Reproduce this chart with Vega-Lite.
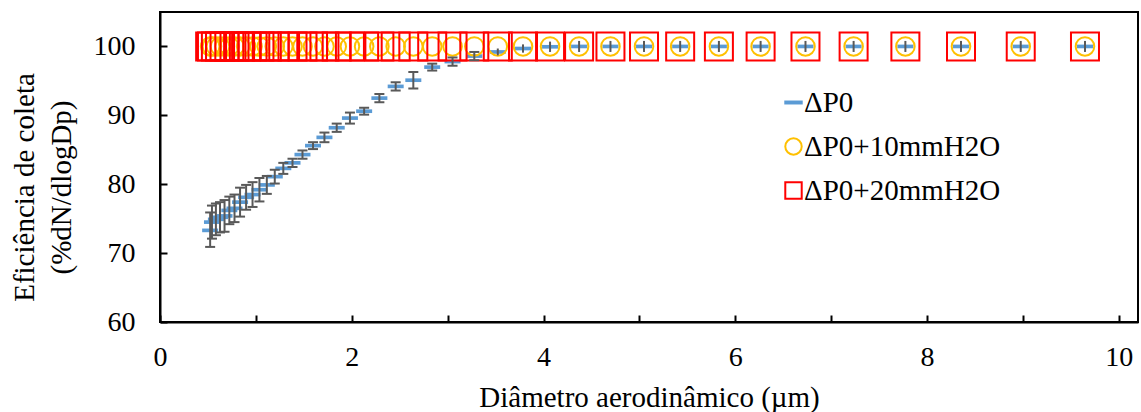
{
  "$schema": "https://vega.github.io/schema/vega-lite/v6.json",
  "width": 978,
  "height": 310,
  "autosize": {"type": "none"},
  "padding": {"left": 160, "top": 12, "right": 3, "bottom": 90},
  "background": "white",
  "config": {
    "font": "Liberation Serif",
    "view": {"stroke": "black", "strokeWidth": 2},
    "axis": {
      "labelFont": "Liberation Serif", "labelFontSize": 28, "labelColor": "black",
      "titleFont": "Liberation Serif", "titleFontSize": 29, "titleFontWeight": "normal", "titleColor": "black",
      "domainColor": "black", "domainWidth": 2, "tickColor": "black", "tickWidth": 2, "grid": false,
      "labelOverlap": false, "labelFlush": false
    },
    "legend": {
      "title": null, "orient": "none", "legendX": 619, "legendY": 76, "padding": 0,
      "labelFont": "Liberation Serif", "labelFontSize": 29, "labelColor": "black", "labelLimit": 400,
      "labelOffset": -4, "symbolSize": 270, "symbolStrokeWidth": 2, "rowPadding": 14
    }
  },
  "datasets": {
    "pts": [
      {"d": 0.523, "s": "ΔP0", "y": 73.3}, {"d": 0.542, "s": "ΔP0", "y": 74.5}, {"d": 0.583, "s": "ΔP0", "y": 74.9},
      {"d": 0.626, "s": "ΔP0", "y": 75.2}, {"d": 0.673, "s": "ΔP0", "y": 75.4}, {"d": 0.723, "s": "ΔP0", "y": 76.2},
      {"d": 0.777, "s": "ΔP0", "y": 76.5}, {"d": 0.835, "s": "ΔP0", "y": 77.4}, {"d": 0.898, "s": "ΔP0", "y": 78.1},
      {"d": 0.965, "s": "ΔP0", "y": 78.5}, {"d": 1.037, "s": "ΔP0", "y": 79.2}, {"d": 1.114, "s": "ΔP0", "y": 79.9},
      {"d": 1.197, "s": "ΔP0", "y": 81.1}, {"d": 1.286, "s": "ΔP0", "y": 82.3}, {"d": 1.382, "s": "ΔP0", "y": 83.1},
      {"d": 1.486, "s": "ΔP0", "y": 84.3}, {"d": 1.596, "s": "ΔP0", "y": 85.6}, {"d": 1.715, "s": "ΔP0", "y": 86.8},
      {"d": 1.843, "s": "ΔP0", "y": 88.2}, {"d": 1.981, "s": "ΔP0", "y": 89.6}, {"d": 2.129, "s": "ΔP0", "y": 90.6},
      {"d": 2.288, "s": "ΔP0", "y": 92.5}, {"d": 2.458, "s": "ΔP0", "y": 94.2}, {"d": 2.642, "s": "ΔP0", "y": 95.1},
      {"d": 2.839, "s": "ΔP0", "y": 97.0}, {"d": 3.051, "s": "ΔP0", "y": 97.8}, {"d": 3.278, "s": "ΔP0", "y": 98.6},
      {"d": 3.523, "s": "ΔP0", "y": 99.2}, {"d": 3.786, "s": "ΔP0", "y": 99.7}, {"d": 4.068, "s": "ΔP0", "y": 99.95},
      {"d": 4.371, "s": "ΔP0", "y": 100}, {"d": 4.698, "s": "ΔP0", "y": 100}, {"d": 5.048, "s": "ΔP0", "y": 100},
      {"d": 5.425, "s": "ΔP0", "y": 100}, {"d": 5.829, "s": "ΔP0", "y": 100}, {"d": 6.264, "s": "ΔP0", "y": 100},
      {"d": 6.732, "s": "ΔP0", "y": 100}, {"d": 7.234, "s": "ΔP0", "y": 100}, {"d": 7.774, "s": "ΔP0", "y": 100},
      {"d": 8.354, "s": "ΔP0", "y": 100}, {"d": 8.977, "s": "ΔP0", "y": 100}, {"d": 9.647, "s": "ΔP0", "y": 100},

      {"d": 0.523, "s": "ΔP0+10mmH2O", "y": 100}, {"d": 0.542, "s": "ΔP0+10mmH2O", "y": 100}, {"d": 0.583, "s": "ΔP0+10mmH2O", "y": 100},
      {"d": 0.626, "s": "ΔP0+10mmH2O", "y": 100}, {"d": 0.673, "s": "ΔP0+10mmH2O", "y": 100}, {"d": 0.723, "s": "ΔP0+10mmH2O", "y": 100},
      {"d": 0.777, "s": "ΔP0+10mmH2O", "y": 100}, {"d": 0.835, "s": "ΔP0+10mmH2O", "y": 100}, {"d": 0.898, "s": "ΔP0+10mmH2O", "y": 100},
      {"d": 0.965, "s": "ΔP0+10mmH2O", "y": 100}, {"d": 1.037, "s": "ΔP0+10mmH2O", "y": 100}, {"d": 1.114, "s": "ΔP0+10mmH2O", "y": 100},
      {"d": 1.197, "s": "ΔP0+10mmH2O", "y": 100}, {"d": 1.286, "s": "ΔP0+10mmH2O", "y": 100}, {"d": 1.382, "s": "ΔP0+10mmH2O", "y": 100},
      {"d": 1.486, "s": "ΔP0+10mmH2O", "y": 100}, {"d": 1.596, "s": "ΔP0+10mmH2O", "y": 100}, {"d": 1.715, "s": "ΔP0+10mmH2O", "y": 100},
      {"d": 1.843, "s": "ΔP0+10mmH2O", "y": 100}, {"d": 1.981, "s": "ΔP0+10mmH2O", "y": 100}, {"d": 2.129, "s": "ΔP0+10mmH2O", "y": 100},
      {"d": 2.288, "s": "ΔP0+10mmH2O", "y": 100}, {"d": 2.458, "s": "ΔP0+10mmH2O", "y": 100}, {"d": 2.642, "s": "ΔP0+10mmH2O", "y": 100},
      {"d": 2.839, "s": "ΔP0+10mmH2O", "y": 100}, {"d": 3.051, "s": "ΔP0+10mmH2O", "y": 100}, {"d": 3.278, "s": "ΔP0+10mmH2O", "y": 100},
      {"d": 3.523, "s": "ΔP0+10mmH2O", "y": 100}, {"d": 3.786, "s": "ΔP0+10mmH2O", "y": 100}, {"d": 4.068, "s": "ΔP0+10mmH2O", "y": 100},
      {"d": 4.371, "s": "ΔP0+10mmH2O", "y": 100}, {"d": 4.698, "s": "ΔP0+10mmH2O", "y": 100}, {"d": 5.048, "s": "ΔP0+10mmH2O", "y": 100},
      {"d": 5.425, "s": "ΔP0+10mmH2O", "y": 100}, {"d": 5.829, "s": "ΔP0+10mmH2O", "y": 100}, {"d": 6.264, "s": "ΔP0+10mmH2O", "y": 100},
      {"d": 6.732, "s": "ΔP0+10mmH2O", "y": 100}, {"d": 7.234, "s": "ΔP0+10mmH2O", "y": 100}, {"d": 7.774, "s": "ΔP0+10mmH2O", "y": 100},
      {"d": 8.354, "s": "ΔP0+10mmH2O", "y": 100}, {"d": 8.977, "s": "ΔP0+10mmH2O", "y": 100}, {"d": 9.647, "s": "ΔP0+10mmH2O", "y": 100},

      {"d": 0.523, "s": "ΔP0+20mmH2O", "y": 100}, {"d": 0.542, "s": "ΔP0+20mmH2O", "y": 100}, {"d": 0.583, "s": "ΔP0+20mmH2O", "y": 100},
      {"d": 0.626, "s": "ΔP0+20mmH2O", "y": 100}, {"d": 0.673, "s": "ΔP0+20mmH2O", "y": 100}, {"d": 0.723, "s": "ΔP0+20mmH2O", "y": 100},
      {"d": 0.777, "s": "ΔP0+20mmH2O", "y": 100}, {"d": 0.835, "s": "ΔP0+20mmH2O", "y": 100}, {"d": 0.898, "s": "ΔP0+20mmH2O", "y": 100},
      {"d": 0.965, "s": "ΔP0+20mmH2O", "y": 100}, {"d": 1.037, "s": "ΔP0+20mmH2O", "y": 100}, {"d": 1.114, "s": "ΔP0+20mmH2O", "y": 100},
      {"d": 1.197, "s": "ΔP0+20mmH2O", "y": 100}, {"d": 1.286, "s": "ΔP0+20mmH2O", "y": 100}, {"d": 1.382, "s": "ΔP0+20mmH2O", "y": 100},
      {"d": 1.486, "s": "ΔP0+20mmH2O", "y": 100}, {"d": 1.596, "s": "ΔP0+20mmH2O", "y": 100}, {"d": 1.715, "s": "ΔP0+20mmH2O", "y": 100},
      {"d": 1.843, "s": "ΔP0+20mmH2O", "y": 100}, {"d": 1.981, "s": "ΔP0+20mmH2O", "y": 100}, {"d": 2.129, "s": "ΔP0+20mmH2O", "y": 100},
      {"d": 2.288, "s": "ΔP0+20mmH2O", "y": 100}, {"d": 2.458, "s": "ΔP0+20mmH2O", "y": 100}, {"d": 2.642, "s": "ΔP0+20mmH2O", "y": 100},
      {"d": 2.839, "s": "ΔP0+20mmH2O", "y": 100}, {"d": 3.051, "s": "ΔP0+20mmH2O", "y": 100}, {"d": 3.278, "s": "ΔP0+20mmH2O", "y": 100},
      {"d": 3.523, "s": "ΔP0+20mmH2O", "y": 100}, {"d": 3.786, "s": "ΔP0+20mmH2O", "y": 100}, {"d": 4.068, "s": "ΔP0+20mmH2O", "y": 100},
      {"d": 4.371, "s": "ΔP0+20mmH2O", "y": 100}, {"d": 4.698, "s": "ΔP0+20mmH2O", "y": 100}, {"d": 5.048, "s": "ΔP0+20mmH2O", "y": 100},
      {"d": 5.425, "s": "ΔP0+20mmH2O", "y": 100}, {"d": 5.829, "s": "ΔP0+20mmH2O", "y": 100}, {"d": 6.264, "s": "ΔP0+20mmH2O", "y": 100},
      {"d": 6.732, "s": "ΔP0+20mmH2O", "y": 100}, {"d": 7.234, "s": "ΔP0+20mmH2O", "y": 100}, {"d": 7.774, "s": "ΔP0+20mmH2O", "y": 100},
      {"d": 8.354, "s": "ΔP0+20mmH2O", "y": 100}, {"d": 8.977, "s": "ΔP0+20mmH2O", "y": 100}, {"d": 9.647, "s": "ΔP0+20mmH2O", "y": 100}
    ],
    "err": [
      {"d": 0.523, "lo": 70.9, "hi": 75.9}, {"d": 0.542, "lo": 72.1, "hi": 76.9}, {"d": 0.583, "lo": 72.6, "hi": 77.2},
      {"d": 0.626, "lo": 73.0, "hi": 77.4}, {"d": 0.673, "lo": 73.1, "hi": 77.7}, {"d": 0.723, "lo": 74.2, "hi": 78.2},
      {"d": 0.777, "lo": 74.5, "hi": 78.5}, {"d": 0.835, "lo": 75.3, "hi": 79.5}, {"d": 0.898, "lo": 76.3, "hi": 79.9},
      {"d": 0.965, "lo": 76.7, "hi": 80.3}, {"d": 1.037, "lo": 77.5, "hi": 80.9}, {"d": 1.114, "lo": 78.6, "hi": 81.2},
      {"d": 1.197, "lo": 80.1, "hi": 82.1}, {"d": 1.286, "lo": 81.5, "hi": 83.1}, {"d": 1.382, "lo": 82.5, "hi": 83.7},
      {"d": 1.486, "lo": 83.7, "hi": 84.9}, {"d": 1.596, "lo": 85.1, "hi": 86.1}, {"d": 1.715, "lo": 86.1, "hi": 87.5},
      {"d": 1.843, "lo": 87.6, "hi": 88.8}, {"d": 1.981, "lo": 88.8, "hi": 90.4}, {"d": 2.129, "lo": 90.1, "hi": 91.1},
      {"d": 2.288, "lo": 91.9, "hi": 93.1}, {"d": 2.458, "lo": 93.6, "hi": 94.8}, {"d": 2.642, "lo": 93.9, "hi": 96.3},
      {"d": 2.839, "lo": 96.5, "hi": 97.5}, {"d": 3.051, "lo": 97.2, "hi": 98.4}, {"d": 3.278, "lo": 98.0, "hi": 99.2},
      {"d": 3.523, "lo": 98.7, "hi": 99.7}, {"d": 3.786, "lo": 99.1, "hi": 100.3}, {"d": 4.068, "lo": 99.2, "hi": 100.7},
      {"d": 4.371, "lo": 99.2, "hi": 100.8}, {"d": 4.698, "lo": 99.2, "hi": 100.8}, {"d": 5.048, "lo": 99.2, "hi": 100.8},
      {"d": 5.425, "lo": 99.2, "hi": 100.8}, {"d": 5.829, "lo": 99.2, "hi": 100.8}, {"d": 6.264, "lo": 99.2, "hi": 100.8},
      {"d": 6.732, "lo": 99.2, "hi": 100.8}, {"d": 7.234, "lo": 99.2, "hi": 100.8}, {"d": 7.774, "lo": 99.2, "hi": 100.8},
      {"d": 8.354, "lo": 99.2, "hi": 100.8}, {"d": 8.977, "lo": 99.2, "hi": 100.8}, {"d": 9.647, "lo": 99.2, "hi": 100.8}
    ]
  },
  "encoding": {
    "x": {
      "field": "d", "type": "quantitative",
      "scale": {"domain": [0, 10.2], "nice": false, "zero": false},
      "axis": {
        "values": [0, 1, 2, 3, 4, 5, 6, 7, 8, 9, 10],
        "format": "d",
        "labelExpr": "datum.value % 2 === 0 ? datum.label : ''",
        "tickSize": -7, "labelPadding": 28,
        "title": "Diâmetro aerodinâmico (µm)",
        "titleBaseline": "alphabetic", "titleY": 84
      }
    }
  },
  "layer": [
    {
      "data": {"name": "pts"},
      "transform": [{"filter": "datum.s === 'ΔP0'"}],
      "mark": {"type": "point", "filled": false, "strokeWidth": 2, "opacity": 1, "size": 196},
      "encoding": {
        "y": {
          "field": "y", "type": "quantitative",
          "scale": {"domain": [60, 105], "nice": false, "zero": false},
          "axis": {
            "values": [60, 65, 70, 75, 80, 85, 90, 95, 100],
            "format": "d",
            "labelExpr": "datum.value % 10 === 0 ? datum.label : ''",
            "tickSize": -7, "labelPadding": 32, "labelBaseline": "middle",
            "title": ["Eficiência de coleta", "(%dN/dlogDp)"],
            "titleBaseline": "alphabetic", "titleX": -127, "titleY": 175, "titleLineHeight": 37
          }
        },
        "color": {
          "field": "s", "type": "nominal",
          "scale": {"domain": ["ΔP0", "ΔP0+10mmH2O", "ΔP0+20mmH2O"], "range": ["#5B9BD5", "#FFC000", "#FF0000"]}
        },
        "shape": {
          "field": "s", "type": "nominal",
          "scale": {"domain": ["ΔP0", "ΔP0+10mmH2O", "ΔP0+20mmH2O"], "range": ["M-1,-0.12L1,-0.12L1,0.12L-1,0.12Z", "circle", "square"]}
        }
      }
    },
    {
      "data": {"name": "pts"},
      "transform": [{"filter": "datum.s === 'ΔP0+10mmH2O'"}],
      "mark": {"type": "point", "filled": false, "strokeWidth": 2, "opacity": 1, "size": 346},
      "encoding": {
        "y": {"field": "y", "type": "quantitative"},
        "color": {
          "field": "s", "type": "nominal",
          "scale": {"domain": ["ΔP0", "ΔP0+10mmH2O", "ΔP0+20mmH2O"], "range": ["#5B9BD5", "#FFC000", "#FF0000"]}
        },
        "shape": {
          "field": "s", "type": "nominal",
          "scale": {"domain": ["ΔP0", "ΔP0+10mmH2O", "ΔP0+20mmH2O"], "range": ["M-1,-0.12L1,-0.12L1,0.12L-1,0.12Z", "circle", "square"]}
        }
      }
    },
    {
      "data": {"name": "pts"},
      "transform": [{"filter": "datum.s === 'ΔP0+20mmH2O'"}],
      "mark": {"type": "point", "filled": false, "strokeWidth": 2, "opacity": 1, "size": 784},
      "encoding": {
        "y": {"field": "y", "type": "quantitative"},
        "color": {
          "field": "s", "type": "nominal",
          "scale": {"domain": ["ΔP0", "ΔP0+10mmH2O", "ΔP0+20mmH2O"], "range": ["#5B9BD5", "#FFC000", "#FF0000"]}
        },
        "shape": {
          "field": "s", "type": "nominal",
          "scale": {"domain": ["ΔP0", "ΔP0+10mmH2O", "ΔP0+20mmH2O"], "range": ["M-1,-0.12L1,-0.12L1,0.12L-1,0.12Z", "circle", "square"]}
        }
      }
    },
    {
      "data": {"name": "err"},
      "mark": {"type": "rule", "color": "#595959", "strokeWidth": 2},
      "encoding": {
        "y": {"field": "lo", "type": "quantitative"},
        "y2": {"field": "hi"}
      }
    },
    {
      "data": {"name": "err"},
      "transform": [{"filter": "datum.d < 3.4"}],
      "mark": {"type": "tick", "orient": "horizontal", "color": "#595959", "thickness": 2, "size": 10, "opacity": 1},
      "encoding": {
        "y": {"field": "lo", "type": "quantitative"}
      }
    },
    {
      "data": {"name": "err"},
      "transform": [{"filter": "datum.d < 3.4"}],
      "mark": {"type": "tick", "orient": "horizontal", "color": "#595959", "thickness": 2, "size": 10, "opacity": 1},
      "encoding": {
        "y": {"field": "hi", "type": "quantitative"}
      }
    }
  ]
}
